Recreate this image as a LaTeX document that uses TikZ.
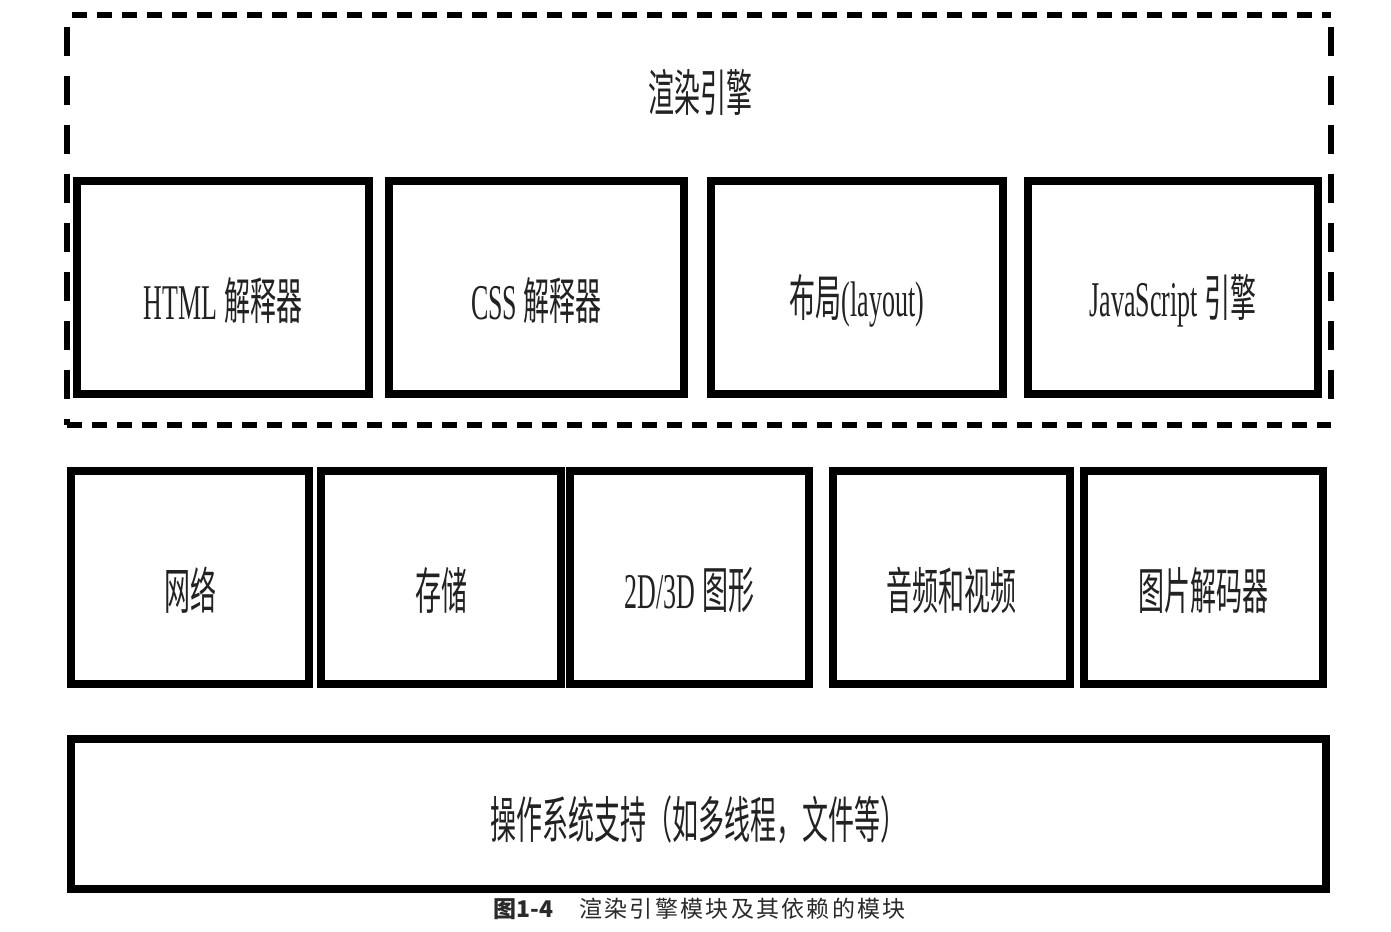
\documentclass[tikz,border=0pt]{standalone}
\usepackage{fontspec}
\setmainfont{Liberation Serif}[FakeStretch=0.52]
\newfontfamily\cjk{Noto Sans CJK SC}[FakeStretch=0.52]
\newfontfamily\capfont{Noto Sans CJK SC}[LetterSpace=10]
\newfontfamily\capbfont{Noto Sans CJK SC}
\definecolor{captext}{HTML}{2A2A2A}
\definecolor{lbltext}{HTML}{222222}
\begin{document}
\begin{tikzpicture}[x=0.5pt,y=-0.5pt,
  box/.style={draw, line width=4pt, minimum height=106.5pt, inner sep=0pt},
  lbl/.style={font=\fontsize{25}{30}\selectfont, text=lbltext, inner sep=0pt},
  dashh/.style={line width=3pt, dash pattern=on 7.5pt off 5pt},
  dashv/.style={line width=3pt, dash pattern=on 14.5pt off 10pt}]
\useasboundingbox[fill=white] (0,0) rectangle (1391,931);

% rendering engine container
\coordinate (eNW) at (67,15);
\coordinate (eNE) at (1331,15);
\coordinate (eSW) at (67,425);
\coordinate (eSE) at (1331,425);
\coordinate (eSEv) at (1331,418);
\draw[dashh, dash phase=10pt] (eNW) -- (eNE);
\draw[dashh] (eSW) -- (eSE);
\draw[dashv, dash phase=18.5pt] (eNW) -- (eSW);
\draw[dashv, dash phase=18.5pt] (eNE) -- (eSEv);
\node[lbl] (title) at (700,92) {\cjk 渲染引擎};

% top row
\node[box, minimum width=146pt]   (html)   at (223,287.5) {};
\node[box, minimum width=147.5pt] (css)    at (536.5,287.5) {};
\node[box, minimum width=146pt]   (layout) at (857,287.5) {};
\node[box, minimum width=145pt]   (js)     at (1173,287.5) {};
\node[lbl] (htmlt)   at ([yshift=-6.5pt]html.center)   {HTML {\cjk 解释器}};
\node[lbl] (csst)    at ([yshift=-6.5pt]css.center)    {CSS {\cjk 解释器}};
\node[lbl] (layoutt) at ([yshift=-6.5pt]layout.center) {{\cjk 布局}(layout)};
\node[lbl] (jst)     at ([yshift=-6.5pt]js.center)     {JavaScript {\cjk 引擎}};

% middle row
\node[box, minimum width=119pt]   (net)   at (190,577.5) {};
\node[box, minimum width=120pt]   (store) at (441,577.5) {};
\node[box, minimum width=119.5pt] (gfx)   at (689.5,577.5) {};
\node[box, minimum width=118.5pt] (av)    at (951.5,577.5) {};
\node[box, minimum width=119.5pt] (img)   at (1203.5,577.5) {};
\node[lbl] (nett)   at ([yshift=-6.5pt]net.center)   {\cjk 网络};
\node[lbl] (storet) at ([yshift=-6.5pt]store.center) {\cjk 存储};
\node[lbl] (gfxt)   at ([yshift=-6.5pt]gfx.center)   {2D/3D {\cjk 图形}};
\node[lbl] (avt)    at ([yshift=-6.5pt]av.center)    {\cjk 音频和视频};
\node[lbl] (imgt)   at ([yshift=-6.5pt]img.center)   {\cjk 图片解码器};

% bottom
\node[box, minimum width=627.5pt, minimum height=75pt] (os) at (698.5,814) {};
\node[lbl] (ost) at ([yshift=-3pt]os.center) {\cjk 操作系统支持（如多线程，文件等）};

% caption
\node[anchor=west, inner sep=0pt, text=captext, font=\fontsize{11.5}{13}\selectfont] (cap) at (493,909)
  {{\capbfont\bfseries 图1-4}\hspace{13pt}{\capfont 渲染引擎模块及其依赖的模块}};
\end{tikzpicture}
\end{document}
